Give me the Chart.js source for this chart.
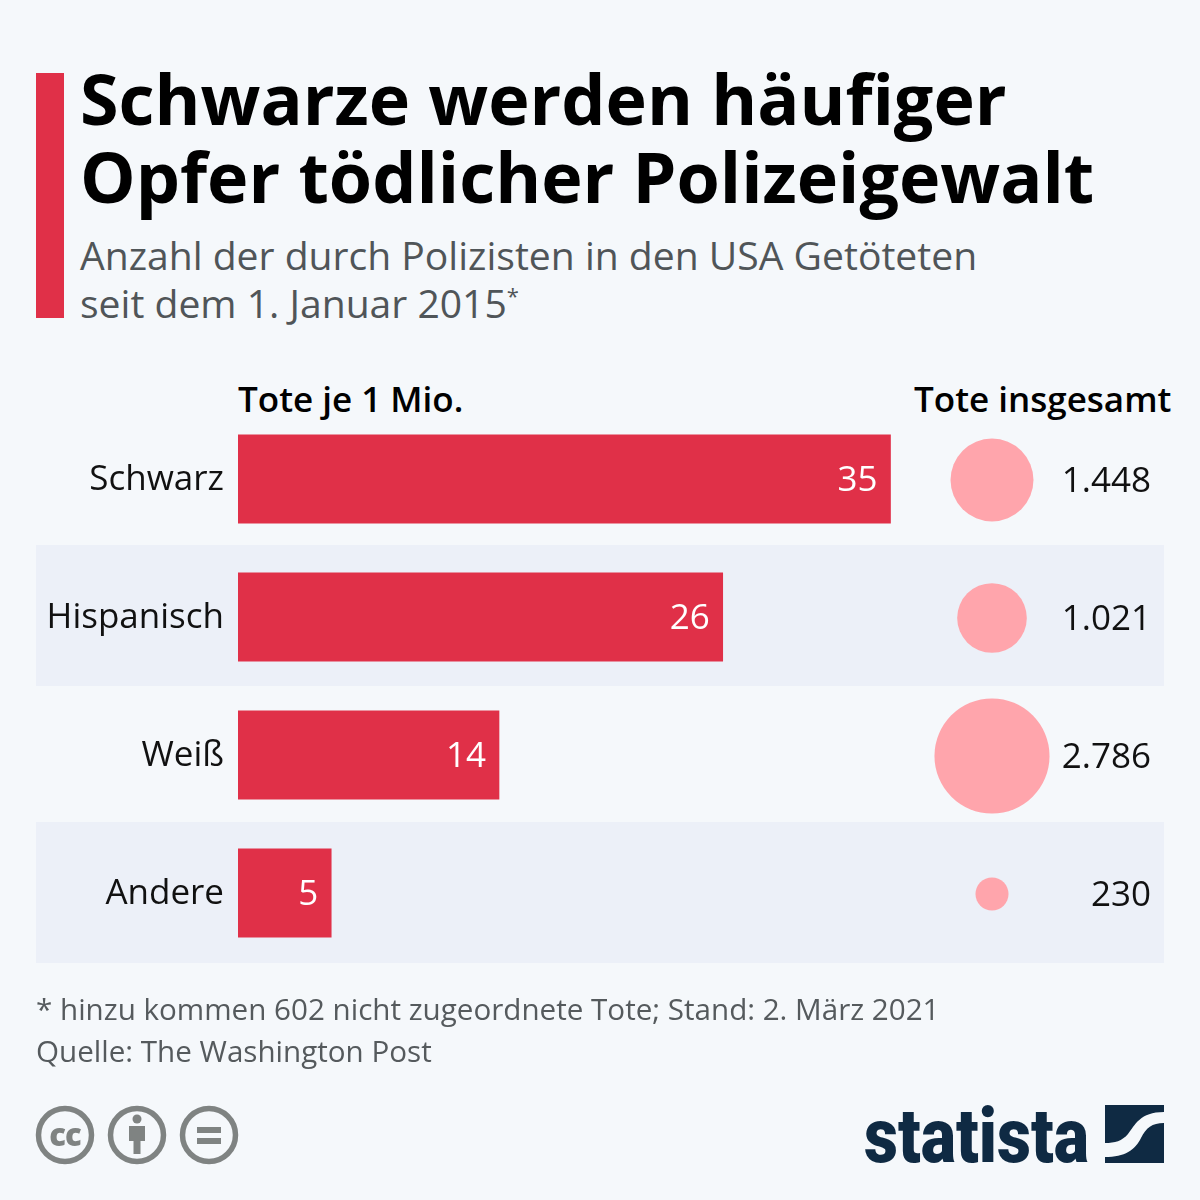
<!DOCTYPE html>
<html lang="de">
<head>
<meta charset="utf-8">
<title>Schwarze werden häufiger Opfer tödlicher Polizeigewalt</title>
<script src="https://cdn.jsdelivr.net/npm/chart.js@4"></script>
<style>
  html, body { margin: 0; padding: 0; background: #f5f8fb; }
  body { width: 1200px; height: 1200px; position: relative; overflow: hidden; font-family: 'Open Sans', sans-serif; }
  .abs { position: absolute; white-space: nowrap; }
  #accent { left: 36px; top: 73px; width: 28px; height: 245px; background: #e03048; }
  #title { left: 80px; top: 59px; font-size: 70px; line-height: 78px; font-weight: 700; color: #000; }
  #subtitle { left: 80px; top: 231px; font-size: 39.1px; line-height: 48px; color: #505558; }
  #subtitle sup { font-size: 22px; line-height: 0; }
  .band { position: absolute; left: 36px; width: 1128px; height: 141px; background: #ecf0f8; }
  .colhead { font-size: 35px; font-weight: 600; color: #000; line-height: 44px; top: 377px; }
  #footer { left: 36px; top: 988px; font-size: 29.6px; line-height: 42px; color: #555a5d; }
  canvas { position: absolute; }
  #barWrap { position: absolute; left: 0; top: 0; width: 900px; height: 1200px; }
  #bubbleWrap { position: absolute; left: 900px; top: 0; width: 300px; height: 1200px; }
  svg { position: absolute; left: 0; top: 0; }
</style>
</head>
<body>
<div id="accent" class="abs"></div>
<div id="title" class="abs">Schwarze werden häufiger<br>Opfer tödlicher Polizeigewalt</div>
<div id="subtitle" class="abs">Anzahl der durch Polizisten in den USA Getöteten<br>seit dem 1. Januar 2015<sup>*</sup></div>

<div class="band" style="top:545px"></div>
<div class="band" style="top:822px"></div>

<div class="abs colhead" style="left:238px">Tote je 1 Mio.</div>
<div class="abs colhead" style="left:914px">Tote insgesamt</div>

<div id="barWrap"><canvas id="barChart"></canvas></div>
<div id="bubbleWrap"><canvas id="bubbleChart"></canvas></div>

<div id="footer" class="abs">* hinzu kommen 602 nicht zugeordnete Tote; Stand: 2. März 2021<br>Quelle: The Washington Post</div>

<svg width="1200" height="1200" viewBox="0 0 1200 1200">
  <!-- CC Icons -->
  <g fill="none" stroke="#7f8382" stroke-width="5.5">
    <circle cx="65" cy="1135" r="26.5"/>
    <circle cx="137" cy="1135" r="26.5"/>
    <circle cx="209" cy="1135" r="26.5"/>
  </g>
  <text x="65" y="1146" text-anchor="middle" font-family="'Open Sans', sans-serif" font-weight="800" font-size="31" letter-spacing="-1" fill="#7f8382">cc</text>
  <g fill="#7f8382">
    <circle cx="137" cy="1119" r="4.5"/>
    <path d="M129 1126 H145 V1141 H140.5 V1154 H133.5 V1141 H129 Z"/>
    <rect x="197" y="1127" width="24" height="6"/>
    <rect x="197" y="1138" width="24" height="6"/>
  </g>
  <!-- Statista logo -->
  <text x="864" y="1162" font-family="Roboto, sans-serif" font-weight="900" font-size="76" fill="#0f2a43" textLength="225" lengthAdjust="spacingAndGlyphs">statista</text>
  <g fill="#0f2a43">
    <path d="M1105 1105 H1164 V1112 C1140 1112 1135 1125 1128 1134 C1122 1141 1115 1143 1105 1143 Z"/>
    <path d="M1164 1123 V1163 H1105 V1157 C1125 1157 1135 1150 1141 1138 C1146 1128 1152 1123 1164 1123 Z"/>
  </g>
</svg>

<script>
// Daten aus der Grafik
const categories = ['Schwarz', 'Hispanisch', 'Weiß', 'Andere'];
const deathsPerMillion = [35, 26, 14, 5];
const deathsTotal = [1448, 1021, 2786, 230];

const FONT = "'Open Sans', sans-serif";
Chart.defaults.font.family = FONT;
Chart.defaults.animation = false;
Chart.defaults.responsive = true;
Chart.defaults.maintainAspectRatio = false;
Chart.defaults.devicePixelRatio = 1;

// Werte innerhalb der Balken, rechtsbündig
const barValuePlugin = {
    id: 'barValue',
    afterDatasetsDraw: (chart) => {
        const { ctx } = chart;
        const bars = chart.getDatasetMeta(0).data;
        ctx.save();
        ctx.font = `35px ${FONT}`;
        ctx.fillStyle = '#ffffff';
        ctx.textAlign = 'right';
        ctx.textBaseline = 'middle';
        bars.forEach((bar, i) => {
            ctx.fillText(String(deathsPerMillion[i]), bar.x - 13, bar.y + 2);
        });
        ctx.restore();
    }
};

new Chart(document.getElementById('barChart'), {
    type: 'bar',
    plugins: [barValuePlugin],
    data: {
        labels: categories,
        datasets: [{
            data: deathsPerMillion,
            backgroundColor: '#e03048',
            borderWidth: 0,
            barThickness: 88.5
        }]
    },
    options: {
        indexAxis: 'y',
        layout: { padding: { left: 0, right: 0, top: 410, bottom: 238 } },
        plugins: { legend: { display: false }, tooltip: { enabled: false } },
        scales: {
            x: { display: false, min: 0, max: 35 * 662 / 652.5 },
            y: {
                grid: { display: false, drawTicks: false },
                border: { display: false },
                afterFit: (scale) => { scale.width = 238; },
                ticks: { color: '#111111', font: { size: 35 }, padding: 14, labelOffset: 1 }
            }
        }
    }
});

new Chart(document.getElementById('bubbleChart'), {
    type: 'bubble',
    data: {
        labels: categories,
        datasets: [{
            data: categories.map((c, i) => ({ x: 0, y: c, r: Math.sqrt(deathsTotal[i]) * 1.09 })),
            backgroundColor: '#ffa5ac',
            borderWidth: 0,
            clip: false
        }]
    },
    options: {
        layout: { autoPadding: false, padding: { left: 34, right: 49, top: 411, bottom: 237 } },
        plugins: { legend: { display: false }, tooltip: { enabled: false } },
        scales: {
            x: { display: false, min: -1, max: 1 },
            y: {
                type: 'category',
                position: 'right',
                offset: true,
                grid: { display: false, drawTicks: false },
                border: { display: false },
                afterFit: (scale) => { scale.width = 101; },
                ticks: {
                    color: '#111111',
                    font: { size: 35 },
                    padding: 12,
                    labelOffset: 2,
                    crossAlign: 'far',
                    callback: (value, index) => deathsTotal[index].toLocaleString('de-DE')
                }
            }
        }
    }
});
</script>
</body>
</html>
